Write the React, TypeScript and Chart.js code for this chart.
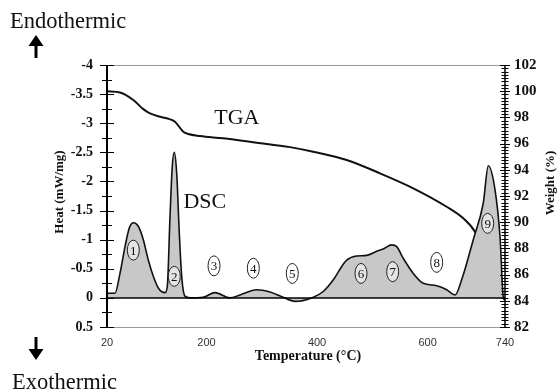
import React, { useEffect, useRef } from 'react';
import { Chart, registerables } from 'chart.js';

Chart.register(...registerables);

// DSC curve: temperature (°C) vs heat flow (mW/mg), negative = endothermic (up)
const dscTemp = [20, 34.5, 43.5, 52.6, 60.3, 67.6, 76.6, 85.7, 94.7, 103.8, 112.8, 124.9, 129.1, 134, 138.1, 141.7, 146.1, 150.8, 155.1, 161.1, 170.1, 193.7, 215.4, 242.5, 260.6, 290.8, 314.9, 338.4, 360, 390.3, 411.3, 429.4, 444.6, 453.6, 471.7, 489.8, 507.9, 519.8, 535, 544.1, 556, 574.1, 592.2, 616.4, 634.5, 646.4, 649.5, 661.6, 682.6, 700.7, 709.8, 721.9, 731, 737, 740];
const dscHeat = [-0.08, -0.08, -0.42, -0.88, -1.2, -1.29, -1.23, -1.0, -0.65, -0.37, -0.17, -0.09, -0.2, -1.4, -2.26, -2.5, -2.14, -1.11, -0.37, -0.03, 0.0, -0.01, -0.09, 0.0, -0.05, -0.14, -0.1, -0.01, 0.06, 0.0, -0.11, -0.31, -0.54, -0.65, -0.72, -0.73, -0.8, -0.84, -0.91, -0.88, -0.68, -0.42, -0.25, -0.21, -0.14, -0.06, -0.05, -0.31, -1.0, -1.63, -2.27, -1.86, -1.05, -0.02, 0.0];

// TGA curve: temperature (°C) vs weight (%)
const tgaTemp = [20, 43.5, 67.6, 85.1, 97.8, 115.9, 128, 143, 158, 167, 188, 230, 290.8, 351, 393, 453.6, 513.9, 574, 634.5, 664.5, 685.7, 712.8, 731, 740];
const tgaWeight = [100, 99.9, 99.33, 98.65, 98.3, 98.05, 97.93, 97.67, 96.9, 96.73, 96.58, 96.4, 96.07, 95.73, 95.38, 94.75, 93.73, 92.59, 91.18, 90.3, 89.27, 86.7, 84.8, 84.0];

// Numbered peak markers
const peakLabels = ['1', '2', '3', '4', '5', '6', '7', '8', '9'];
const peakTemp = [67.6, 141.7, 213.6, 284.7, 355.2, 479.5, 536.8, 616.4, 708.7];
const peakHeat = [-0.82, -0.37, -0.55, -0.51, -0.42, -0.42, -0.45, -0.61, -1.28];

// Axis ticks / labels
const xTickValues = [20, 200, 400, 600, 740];
const heatMin = -4;
const heatMax = 0.5;
const weightMin = 82;
const weightMax = 102;
const curveLabels = [
  { text: 'TGA', temp: 255, weight: 97.9 },
];
const dscLabel = { text: 'DSC', temp: 197, heat: -1.65 };

const SERIF = '"Liberation Serif", "Times New Roman", serif';
const SANS = '"Liberation Sans", Arial, sans-serif';

const decorPlugin = {
  id: 'decor',
  afterDatasetsDraw(chart: any) {
    const { ctx, chartArea: ca, scales } = chart;
    const y = scales.y;
    const x = scales.x;
    ctx.save();
    // zero line
    const y0 = y.getPixelForValue(0);
    ctx.strokeStyle = '#000';
    ctx.lineWidth = 1.5;
    ctx.beginPath();
    ctx.moveTo(ca.left, y0);
    ctx.lineTo(ca.right, y0);
    ctx.stroke();
    // peak ellipses
    ctx.font = `13px ${SERIF}`;
    ctx.textAlign = 'center';
    ctx.textBaseline = 'middle';
    peakLabels.forEach((lab, i) => {
      const px = x.getPixelForValue(peakTemp[i]);
      const py = y.getPixelForValue(peakHeat[i]);
      ctx.beginPath();
      ctx.ellipse(px, py, 6, 10, 0, 0, Math.PI * 2);
      ctx.fillStyle = 'rgba(255,255,255,0.5)';
      ctx.fill();
      ctx.strokeStyle = '#222';
      ctx.lineWidth = 1;
      ctx.stroke();
      ctx.fillStyle = '#111';
      ctx.fillText(lab, px, py + 1);
    });
    ctx.restore();
  },
  afterDraw(chart: any) {
    const { ctx, chartArea: ca, scales } = chart;
    const y = scales.y;
    const y2 = scales.y2;
    const x = scales.x;
    ctx.save();
    // frame lines (top and bottom gray)
    ctx.strokeStyle = '#999';
    ctx.lineWidth = 1;
    ctx.beginPath();
    ctx.moveTo(ca.left, ca.top + 0.5);
    ctx.lineTo(ca.right, ca.top + 0.5);
    ctx.moveTo(ca.left, ca.bottom + 0.5);
    ctx.lineTo(ca.right, ca.bottom + 0.5);
    ctx.stroke();
    // axis lines
    ctx.strokeStyle = '#000';
    ctx.lineWidth = 2;
    ctx.beginPath();
    ctx.moveTo(ca.left, ca.top);
    ctx.lineTo(ca.left, ca.bottom);
    ctx.stroke();
    ctx.lineWidth = 1.5;
    ctx.beginPath();
    ctx.moveTo(ca.right, ca.top);
    ctx.lineTo(ca.right, ca.bottom);
    ctx.stroke();
    // tick marks crossing axes
    ctx.lineWidth = 1.2;
    ctx.beginPath();
    y.ticks.forEach((t: any) => {
      const py = Math.round(y.getPixelForValue(t.value)) + 0.5;
      const len = t.label !== '' ? 7 : 5;
      ctx.moveTo(ca.left - len, py);
      ctx.lineTo(ca.left + len, py);
    });
    ctx.stroke();
    ctx.lineWidth = 1;
    ctx.beginPath();
    y2.ticks.forEach((t: any) => {
      const py = Math.round(y2.getPixelForValue(t.value)) + 0.5;
      const len = t.label !== '' ? 5 : 3.5;
      ctx.moveTo(ca.right - len, py);
      ctx.lineTo(ca.right + len, py);
    });
    ctx.stroke();

    // curve labels
    ctx.fillStyle = '#111';
    ctx.font = `22px ${SERIF}`;
    ctx.textAlign = 'center';
    ctx.textBaseline = 'middle';
    curveLabels.forEach((c) => {
      ctx.fillText(c.text, x.getPixelForValue(c.temp), y2.getPixelForValue(c.weight));
    });
    ctx.fillText(dscLabel.text, x.getPixelForValue(dscLabel.temp), y.getPixelForValue(dscLabel.heat));

    // axis titles
    ctx.font = `bold 14px ${SERIF}`;
    ctx.fillText('Temperature (°C)', (ca.left + ca.right) / 2 + 2, ca.bottom + 29);
    ctx.save();
    ctx.translate(60, (ca.top + ca.bottom) / 2 - 4);
    ctx.rotate(-Math.PI / 2);
    ctx.font = `bold 13px ${SERIF}`;
    ctx.fillText('Heat (mW/mg)', 0, 0);
    ctx.restore();
    ctx.save();
    ctx.translate(551, (ca.top + ca.bottom) / 2 - 13);
    ctx.rotate(-Math.PI / 2);
    ctx.font = `bold 13px ${SERIF}`;
    ctx.fillText('Weight (%)', 0, 0);
    ctx.restore();

    // Endothermic / Exothermic with arrows
    ctx.font = `22.5px ${SERIF}`;
    ctx.textAlign = 'left';
    ctx.textBaseline = 'alphabetic';
    ctx.fillText('Endothermic', 10, 28);
    ctx.fillText('Exothermic', 12, 389);
    ctx.fillStyle = '#000';
    // up arrow
    ctx.fillRect(34.5, 44, 3, 14);
    ctx.beginPath();
    ctx.moveTo(36, 35);
    ctx.lineTo(43.5, 46);
    ctx.lineTo(28.5, 46);
    ctx.closePath();
    ctx.fill();
    // down arrow
    ctx.fillRect(34.5, 337, 3, 14);
    ctx.beginPath();
    ctx.moveTo(36, 360);
    ctx.lineTo(43.5, 349);
    ctx.lineTo(28.5, 349);
    ctx.closePath();
    ctx.fill();
    ctx.restore();
  },
};

export default function App() {
  const canvasRef = useRef<HTMLCanvasElement | null>(null);

  useEffect(() => {
    const canvas = canvasRef.current;
    if (!canvas) return;
    const dscData = dscTemp.map((t, i) => ({ x: t, y: dscHeat[i] }));
    const tgaData = tgaTemp.map((t, i) => ({ x: t, y: tgaWeight[i] }));
    const chart = new Chart(canvas, {
      type: 'line',
      data: {
        datasets: [
          {
            label: 'DSC',
            data: dscData,
            yAxisID: 'y',
            borderColor: '#111',
            borderWidth: 1.6,
            backgroundColor: '#c8c8c8',
            fill: { value: 0 },
            pointRadius: 0,
            cubicInterpolationMode: 'monotone',
          },
          {
            label: 'TGA',
            data: tgaData,
            yAxisID: 'y2',
            borderColor: '#111',
            borderWidth: 2,
            fill: false,
            pointRadius: 0,
            cubicInterpolationMode: 'monotone',
          },
        ],
      },
      options: {
        responsive: false,
        animation: false,
        devicePixelRatio: 1,
        layout: { padding: { top: 65, left: 0, right: 0, bottom: 0 } },
        plugins: {
          legend: { display: false },
          tooltip: { enabled: false },
          title: { display: false },
        },
        scales: {
          x: {
            type: 'linear',
            min: 20,
            max: 740,
            grid: { display: false, drawTicks: false },
            border: { display: false },
            afterBuildTicks: (scale: any) => {
              scale.ticks = xTickValues.map((v) => ({ value: v }));
            },
            afterFit: (scale: any) => {
              scale.height = 64;
            },
            ticks: {
              autoSkip: false,
              maxRotation: 0,
              padding: 9,
              color: '#333',
              font: { family: SANS, size: 11 },
              callback: (v: any) => String(v),
            },
          },
          y: {
            type: 'linear',
            position: 'left',
            reverse: true,
            min: heatMin,
            max: heatMax,
            grid: { display: false, drawTicks: false },
            border: { display: false },
            afterFit: (scale: any) => {
              scale.width = 107;
            },
            ticks: {
              stepSize: 0.25,
              autoSkip: false,
              padding: 14,
              color: '#111',
              font: { family: SERIF, size: 14, weight: 'bold' },
              callback: (v: any) => {
                const n = Number(v);
                return Math.abs(n * 2 - Math.round(n * 2)) < 1e-6 ? String(Math.round(n * 10) / 10) : '';
              },
            },
          },
          y2: {
            type: 'linear',
            position: 'right',
            min: weightMin,
            max: weightMax,
            grid: { display: false, drawTicks: false },
            border: { display: false },
            afterFit: (scale: any) => {
              scale.width = 54;
            },
            ticks: {
              stepSize: 0.25,
              autoSkip: false,
              padding: 9,
              color: '#111',
              font: { family: SERIF, size: 15, weight: 'bold' },
              callback: (v: any) => {
                const n = Number(v);
                return Math.abs(n / 2 - Math.round(n / 2)) < 1e-6 ? String(Math.round(n)) : '';
              },
            },
          },
        },
      },
      plugins: [decorPlugin],
    } as any);
    return () => chart.destroy();
  }, []);

  return (
    <div style={{ position: 'absolute', left: 0, top: 0, width: 559, height: 391, background: '#fff' }}>
      <canvas ref={canvasRef} width={559} height={391} style={{ display: 'block', width: 559, height: 391 }} />
    </div>
  );
}
